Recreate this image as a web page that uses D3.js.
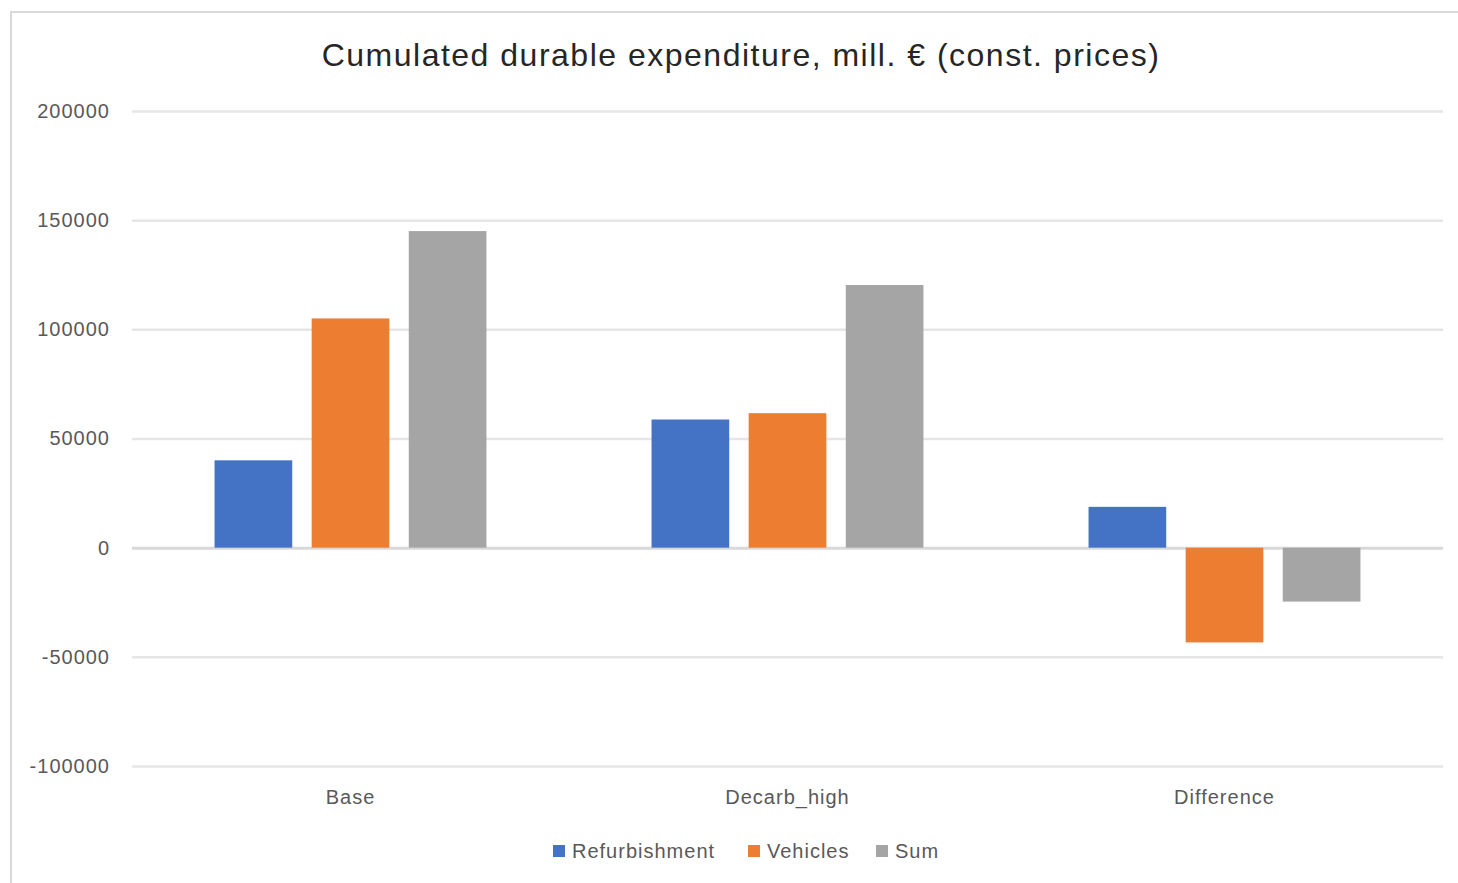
<!DOCTYPE html>
<html>
<head>
<meta charset="utf-8">
<script src="https://cdn.jsdelivr.net/npm/d3@7"></script>
<style>
  html, body { margin: 0; padding: 0; background: #fff; }
  svg { display: block; }
  text { font-family: "Liberation Sans", Arial, sans-serif; }
</style>
</head>
<body>
<svg id="chart" width="1458" height="883"></svg>
<script>
// Scenario categories and the three expenditure series (mill. €, const. prices)
const categories = ["Base", "Decarb_high", "Difference"];
const seriesNames = ["Refurbishment", "Vehicles", "Sum"];
const refurbishment = [40000, 58700, 18700];
const vehicles = [105000, 61600, -43400];
const sum = [145000, 120300, -24700];
const yTicks = [-100000, -50000, 0, 50000, 100000, 150000, 200000];
const colors = ["#4472C4", "#ED7D31", "#A5A5A5"];

const seriesValues = [refurbishment, vehicles, sum];
const rows = categories.map((c, i) => ({
  category: c,
  values: seriesNames.map((s, j) => ({ series: s, value: seriesValues[j][i] }))
}));

const svg = d3.select("#chart");

// Chart frame
svg.append("rect")
  .attr("x", 11).attr("y", 12)
  .attr("width", 1460).attr("height", 880)
  .attr("fill", "#fff")
  .attr("stroke", "#d9d9d9").attr("stroke-width", 2);

const plot = { left: 132, right: 1443, top: 111, bottom: 766 };

const y = d3.scaleLinear()
  .domain([-100000, 200000])
  .range([plot.bottom, plot.top]);

const x0 = d3.scaleBand()
  .domain(categories)
  .range([plot.left, plot.right]);

const x1 = d3.scaleBand()
  .domain(seriesNames)
  .range([0, x0.bandwidth()])
  .paddingInner(0.2)
  .paddingOuter(0.85);

// Gridlines
const grid = d3.axisLeft(y)
  .tickValues(yTicks)
  .tickSize(-(plot.right - plot.left))
  .tickFormat("");
const gGrid = svg.append("g")
  .attr("transform", `translate(${plot.left},0)`)
  .call(grid);
gGrid.select(".domain").remove();
gGrid.selectAll(".tick line")
  .attr("stroke", d => d === 0 ? "#d9d9d9" : "#e6e6e6")
  .attr("stroke-width", d => d === 0 ? 3 : 2.5);

// Y tick labels (plain hyphen for negatives)
const yAxis = d3.axisLeft(y)
  .tickValues(yTicks)
  .tickSize(0)
  .tickPadding(0)
  .tickFormat(d => String(d));
const gY = svg.append("g")
  .attr("transform", `translate(110,0)`)
  .call(yAxis);
gY.select(".domain").remove();
gY.selectAll("text")
  .attr("fill", "#595959")
  .style("font-size", "20px")
  .style("letter-spacing", "1px")
  .style("font-family", "'Liberation Sans', Arial, sans-serif");

// Bars
const groups = svg.append("g")
  .selectAll("g")
  .data(rows)
  .join("g")
  .attr("transform", d => `translate(${x0(d.category)},0)`);

groups.selectAll("rect")
  .data(d => d.values)
  .join("rect")
  .attr("x", d => x1(d.series))
  .attr("width", x1.bandwidth())
  .attr("y", d => y(Math.max(0, d.value)))
  .attr("height", d => Math.abs(y(d.value) - y(0)))
  .attr("fill", (d, i) => colors[i]);

// Category labels
const xAxis = d3.axisBottom(x0).tickSize(0).tickPadding(0);
const gX = svg.append("g")
  .attr("transform", `translate(0,790)`)
  .call(xAxis);
gX.select(".domain").remove();
gX.selectAll("text")
  .attr("fill", "#595959")
  .style("font-size", "20px")
  .style("letter-spacing", "1px")
  .style("font-family", "'Liberation Sans', Arial, sans-serif");

// Title
svg.append("text")
  .attr("x", 741).attr("y", 66)
  .attr("text-anchor", "middle")
  .attr("fill", "#262626")
  .style("font-size", "32px")
  .style("letter-spacing", "1.5px")
  .text("Cumulated durable expenditure, mill. € (const. prices)");

// Legend
const legendItems = [
  { name: "Refurbishment", x: 553 },
  { name: "Vehicles", x: 748 },
  { name: "Sum", x: 876 }
];
const legend = svg.append("g")
  .selectAll("g")
  .data(legendItems)
  .join("g")
  .attr("transform", d => `translate(${d.x},845)`);
legend.append("rect")
  .attr("width", 12).attr("height", 12)
  .attr("fill", (d, i) => colors[i]);
legend.append("text")
  .attr("x", 19).attr("y", 13)
  .attr("fill", "#595959")
  .style("font-size", "20px")
  .style("letter-spacing", "1px")
  .text(d => d.name);
</script>
</body>
</html>
